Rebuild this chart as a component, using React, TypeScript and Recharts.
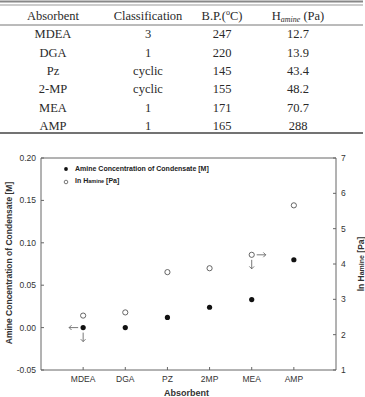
import React from 'react';
import { ScatterChart, Scatter, XAxis, YAxis, Legend, ReferenceLine } from 'recharts';

// table rows
const tableNames = ['MDEA', 'DGA', 'Pz', '2-MP', 'MEA', 'AMP'];
const tableClass = ['3', '1', 'cyclic', 'cyclic', '1', '1'];
const tableBP = ['247', '220', '145', '155', '171', '165'];
const tableH = ['12.7', '13.9', '43.4', '48.2', '70.7', '288'];

// chart series
const absorbents = ['MDEA', 'DGA', 'PZ', '2MP', 'MEA', 'AMP'];
const concentration = [0.0, 0.0, 0.012, 0.024, 0.033, 0.08];
const lnHamine = [2.54, 2.63, 3.77, 3.88, 4.26, 5.66];
const leftTicks = [-0.05, 0, 0.05, 0.1, 0.15, 0.2];
const rightTicks = [1, 2, 3, 4, 5, 6, 7];
const xTicks = [1, 2, 3, 4, 5, 6];

// arrows pointing each marker to its axis
const arrowNotes = [
  { series: 'conc', name: 'MDEA', dirs: ['left', 'down'] },
  { series: 'lnH', name: 'MEA', dirs: ['right', 'down'] },
];

const concData = absorbents.map((name, i) => ({ pos: i + 1, name, value: concentration[i] }));
const lnHData = absorbents.map((name, i) => ({ pos: i + 1, name, value: lnHamine[i] }));

const SANS = '"Liberation Sans", Arial, sans-serif';
const SERIF = '"Liberation Serif", "Times New Roman", serif';
const AXIS = '#666';
const TXT = '#333';

const colX = [53, 148, 222, 298];
const rowY = [33, 52, 70, 88, 107, 125];

const PropertyTable = () => (
  <svg width={365} height={140} style={{ position: 'absolute', left: 0, top: 0 }}>
    <line x1={0} x2={363} y1={1.5} y2={1.5} stroke="#888" strokeWidth={2} />
    <line x1={0} x2={363} y1={5} y2={5} stroke="#999" strokeWidth={1} />
    <line x1={0} x2={363} y1={25} y2={25} stroke="#777" strokeWidth={1} />
    <line x1={0} x2={363} y1={133} y2={133} stroke="#444" strokeWidth={1.5} />
    <g fontFamily={SERIF} fontSize={12.5} fill="#2a2a2a" textAnchor="middle">
      <text x={colX[0]} y={19.5}>Absorbent</text>
      <text x={colX[1]} y={19.5}>Classification</text>
      <text x={colX[2]} y={19.5}>
        B.P.(<tspan fontSize={8} dy={-4.5}>o</tspan>
        <tspan dy={4.5}>C)</tspan>
      </text>
      <text x={colX[3]} y={19.5}>
        H<tspan fontSize={8} fontStyle="italic" dy={2}>amine</tspan>
        <tspan dy={-2}> (Pa)</tspan>
      </text>
      {tableNames.map((n, i) => (
        <g key={n}>
          <text x={colX[0]} y={rowY[i] + 4.5}>{n}</text>
          <text x={colX[1]} y={rowY[i] + 4.5}>{tableClass[i]}</text>
          <text x={colX[2]} y={rowY[i] + 4.5}>{tableBP[i]}</text>
          <text x={colX[3]} y={rowY[i] + 4.5}>{tableH[i]}</text>
        </g>
      ))}
    </g>
  </svg>
);

const arrowPath = (cx: number, cy: number, dir: string) => {
  const gap = 5;
  const len = 9;
  const h = 2.4;
  if (dir === 'left') {
    const a = cx - gap, b = a - len;
    return `M${a},${cy}L${b},${cy}M${b + h},${cy - h}L${b},${cy}L${b + h},${cy + h}`;
  }
  if (dir === 'right') {
    const a = cx + gap, b = a + len;
    return `M${a},${cy}L${b},${cy}M${b - h},${cy - h}L${b},${cy}L${b - h},${cy + h}`;
  }
  const a = cy + gap, b = a + len;
  return `M${cx},${a}L${cx},${b}M${cx - h},${b - h}L${cx},${b}L${cx + h},${b - h}`;
};

const makeShape = (series: string, filled: boolean) => (props: any) => {
  const { cx, cy, payload } = props;
  const note = arrowNotes.find((a) => a.series === series && a.name === payload.name);
  return (
    <g>
      <circle
        cx={cx}
        cy={cy}
        r={2.6}
        fill={filled ? '#111' : '#fff'}
        stroke={filled ? '#111' : '#555'}
        strokeWidth={filled ? 0 : 0.9}
      />
      {note &&
        note.dirs.map((d) => (
          <path key={d} d={arrowPath(cx, cy, d)} stroke="#555" strokeWidth={0.8} fill="none" />
        ))}
    </g>
  );
};

const LeftTick = ({ x, y, payload }: any) => (
  <g>
    <line x1={x + 5} x2={x + 8} y1={y} y2={y} stroke={AXIS} />
    <text x={x} y={y + 3} textAnchor="end" fontSize={8.5} fontFamily={SANS} fill={TXT}>
      {payload.value.toFixed(2)}
    </text>
  </g>
);

const RightTick = ({ x, y, payload }: any) => (
  <g>
    <line x1={x - 5} x2={x - 8} y1={y} y2={y} stroke={AXIS} />
    <text x={x} y={y + 3} textAnchor="start" fontSize={8.5} fontFamily={SANS} fill={TXT}>
      {payload.value}
    </text>
  </g>
);

const BottomTick = ({ x, y, payload }: any) => (
  <g>
    <line x1={x} x2={x} y1={y - 5} y2={y - 8} stroke={AXIS} />
    <text x={x} y={y + 7} textAnchor="middle" fontSize={8.5} fontFamily={SANS} fill={TXT}>
      {absorbents[payload.value - 1]}
    </text>
  </g>
);

const LegendBox = () => (
  <div style={{ fontFamily: SANS, fontSize: 7, fontWeight: 'bold', color: '#222', lineHeight: '12.4px' }}>
    <div style={{ display: 'flex', alignItems: 'center', height: 12.4 }}>
      <svg width={10} height={8} style={{ marginRight: 3 }}>
        <circle cx={4} cy={4} r={1.9} fill="#111" />
      </svg>
      <span>Amine Concentration of Condensate [M]</span>
    </div>
    <div style={{ display: 'flex', alignItems: 'center', height: 12.4 }}>
      <svg width={10} height={8} style={{ marginRight: 3 }}>
        <circle cx={4} cy={4} r={1.8} fill="#fff" stroke="#555" strokeWidth={0.8} />
      </svg>
      <span>
        ln H<span style={{ fontSize: 5.5 }}>amine</span> [Pa]
      </span>
    </div>
  </div>
);

export default function App() {
  return (
    <div style={{ position: 'absolute', left: 0, top: 0, width: 365, height: 397, background: '#fff' }}>
      <ScatterChart width={365} height={397} margin={{ top: 158, right: 0, bottom: 0, left: 0 }}>
        <XAxis
          dataKey="pos"
          type="number"
          domain={[0, 7]}
          ticks={xTicks}
          interval={0}
          height={27}
          stroke={AXIS}
          tickSize={0}
          tickMargin={5}
          tick={BottomTick}
          label={{
            content: ({ viewBox }: any) => (
              <text
                x={viewBox.x + viewBox.width / 2 - 2}
                y={viewBox.y + 26}
                textAnchor="middle"
                fontSize={9}
                fontWeight="bold"
                fontFamily={SANS}
                fill={TXT}
              >
                Absorbent
              </text>
            ),
          }}
        />
        <YAxis
          yAxisId="left"
          dataKey="value"
          type="number"
          domain={[-0.05, 0.2]}
          ticks={leftTicks}
          interval={0}
          width={41}
          stroke={AXIS}
          tickSize={0}
          tickMargin={5}
          tick={LeftTick}
          label={{
            content: ({ viewBox }: any) => {
              const cx = viewBox.x + 9;
              const cy = viewBox.y + viewBox.height / 2 - 1;
              return (
                <text
                  x={cx}
                  y={cy}
                  transform={`rotate(-90 ${cx} ${cy})`}
                  textAnchor="middle"
                  dominantBaseline="central"
                  fontSize={8.5}
                  fontWeight="bold"
                  fontFamily={SANS}
                  fill={TXT}
                >
                  Amine Concentration of Condensate [M]
                </text>
              );
            },
          }}
        />
        <YAxis
          yAxisId="right"
          orientation="right"
          dataKey="value"
          type="number"
          domain={[1, 7]}
          ticks={rightTicks}
          interval={0}
          width={29}
          stroke={AXIS}
          tickSize={0}
          tickMargin={5}
          tick={RightTick}
          label={{
            content: ({ viewBox }: any) => {
              const cx = viewBox.x + 25;
              const cy = viewBox.y + viewBox.height / 2;
              return (
                <text
                  x={cx}
                  y={cy}
                  transform={`rotate(-90 ${cx} ${cy})`}
                  textAnchor="middle"
                  dominantBaseline="central"
                  fontSize={8.5}
                  fontWeight="bold"
                  fontFamily={SANS}
                  fill={TXT}
                >
                  ln H<tspan fontSize={7}>amine</tspan> [Pa]
                </text>
              );
            },
          }}
        />
        {/* top edge of the frame */}
        <ReferenceLine yAxisId="left" y={0.2} stroke={AXIS} strokeWidth={1} />
        <Legend
          layout="vertical"
          align="center"
          verticalAlign="middle"
          content={LegendBox}
          wrapperStyle={{ left: 62, top: 163, width: 'auto', height: 'auto' }}
        />
        <Scatter
          name="ln Hamine [Pa]"
          data={lnHData}
          yAxisId="right"
          shape={makeShape('lnH', false)}
          isAnimationActive={false}
        />
        <Scatter
          name="Amine Concentration of Condensate [M]"
          data={concData}
          yAxisId="left"
          shape={makeShape('conc', true)}
          isAnimationActive={false}
        />
      </ScatterChart>
      <PropertyTable />
    </div>
  );
}
